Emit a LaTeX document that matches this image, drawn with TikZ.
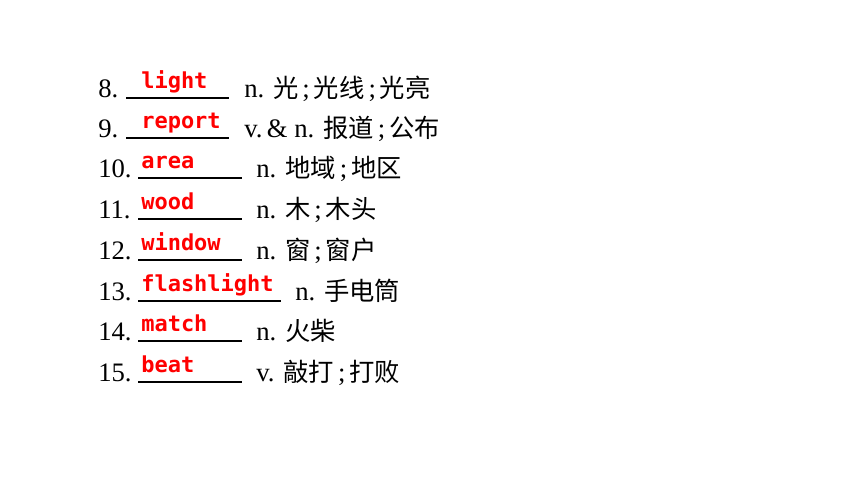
\documentclass[tikz,border=0pt]{standalone}
\usepackage{fontspec}
\setmainfont{Liberation Serif}
\newfontfamily\cjk{Noto Sans CJK SC}
\newfontfamily\answerfont{DejaVu Sans Mono}
\usetikzlibrary{positioning}
\newcommand{\zh}[1]{{\fontsize{19}{23}\cjk #1}}
\newcommand{\semi}{\hspace{3pt};\hspace{3pt}}

\begin{document}
\begin{tikzpicture}[x=0.75pt,y=-0.75pt]
  \tikzset{
    num/.style={anchor=base west,inner sep=0pt,font=\fontsize{20}{24}\selectfont},
    answer/.style={anchor=base west,inner sep=0pt,text=red,font=\fontsize{16.5}{19}\selectfont\answerfont\bfseries},
    meaning/.style={anchor=base west,inner sep=0pt,font=\fontsize{20}{24}\selectfont},
    blank/.style={line width=0.8pt}
  }
  \useasboundingbox (0,0) rectangle (861,487);
  % number / baseline / blank start / blank end / answer / meaning x / meaning
  \foreach \n/\y/\ls/\le/\word/\mx/\mean in {
      8/98/126/229/light/244/{n. \zh{光}\semi\zh{光线}\semi\zh{光亮}},
      9/138/126/229/report/244/{v.\,\& n. \zh{报道}\semi\zh{公布}},
      10/178/138/242/area/256/{n. \zh{地域}\semi\zh{地区}},
      11/219/138/242/wood/256/{n. \zh{木}\semi\zh{木头}},
      12/260/138/242/window/256/{n. \zh{窗}\semi\zh{窗户}},
      13/301/138/281/flashlight/295/{n. \zh{手电筒}},
      14/341/138/242/match/256/{n. \zh{火柴}},
      15/382/138/242/beat/256/{v. \zh{敲打}\semi\zh{打败}}}
  {
    \node[num] (num\n) at (98,\y-1) {\n.};
    \coordinate (bl\n) at (\ls,\y);
    \coordinate (br\n) at (\le,\y);
    \draw[blank] (bl\n) -- (br\n);
    \node[answer] (ans\n) at (141,\y-10) {\word};
    \node[meaning] (mean\n) at (\mx,\y-1) {\mean};
  }
\end{tikzpicture}
\end{document}
